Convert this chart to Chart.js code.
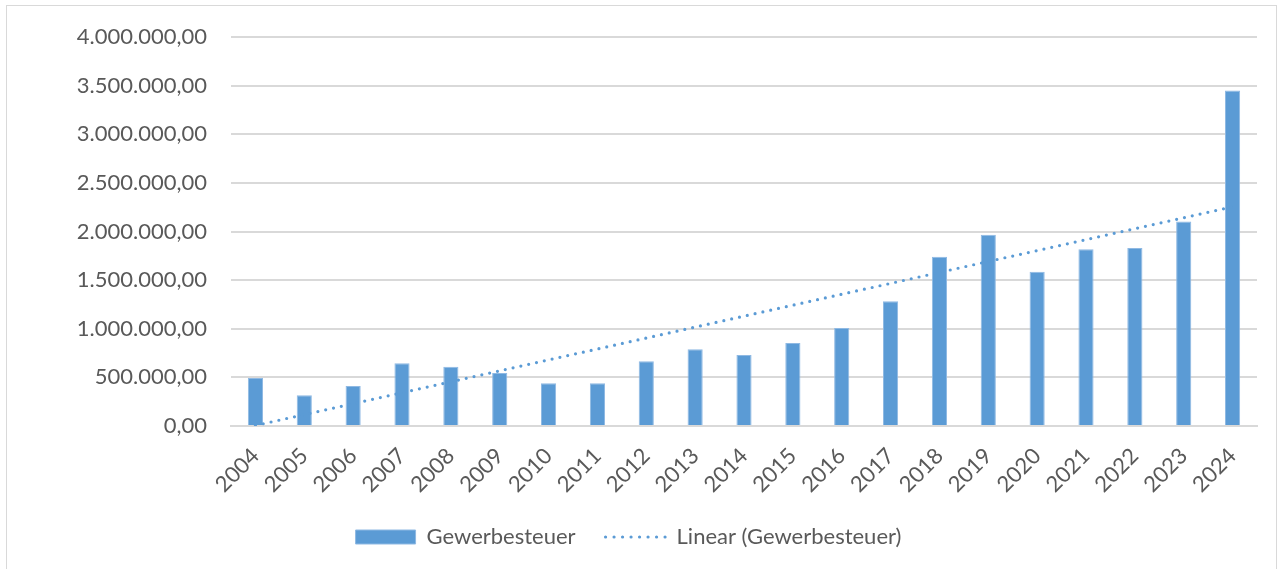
<!DOCTYPE html>
<html>
<head>
<meta charset="utf-8">
<script src="https://cdn.jsdelivr.net/npm/chart.js@4"></script>
<style>
  html, body { margin: 0; padding: 0; background: #fff; overflow: hidden; }
  #frame { position: absolute; left: 6px; top: 5px; width: 1269px; height: 600px; border: 1px solid #d9d9d9; }
  #graph { position: absolute; left: 0; top: 0; }
</style>
</head>
<body>
<div id="frame"></div>
<canvas id="graph" width="1282" height="569"></canvas>
<script>
// Daten
const years = ["2004","2005","2006","2007","2008","2009","2010","2011","2012","2013","2014",
  "2015","2016","2017","2018","2019","2020","2021","2022","2023","2024"]
const gewerbesteuer = [495000, 316000, 411000, 645000, 610000, 545000, 439000, 440000, 667000,
  789000, 731000, 854000, 1007000, 1283000, 1740000, 1968000, 1587000, 1818000, 1832000,
  2104000, 3451000]
// Trendlinie: Anfangs- und Endwert
const trendStart = 5000
const trendEnd = 2255000
const trend = years.map((y, i) => i === 0 ? trendStart : (i === years.length - 1 ? trendEnd : null))

const blue = '#5b9bd5'
const grey = '#595959'
const font = { family: 'Lato', size: 22 }

function deNum(v) {
  const s = Math.round(v).toString().replace(/\B(?=(\d{3})+(?!\d))/g, '.')
  return s + ',00'
}

new Chart('graph', {
  data: {
    labels: years,
    datasets: [{
      type: 'bar',
      label: 'Gewerbesteuer',
      data: gewerbesteuer,
      backgroundColor: blue,
      borderColor: '#8fb9e3',
      borderWidth: 1,
      barPercentage: 0.31,
      categoryPercentage: 1,
      pointStyle: 'rect',
      order: 1
    }, {
      type: 'line',
      label: 'Linear (Gewerbesteuer)',
      data: trend,
      spanGaps: true,
      borderColor: blue,
      borderWidth: 3.2,
      borderDash: [0, 8],
      borderCapStyle: 'round',
      pointRadius: 0,
      pointStyle: 'line',
      fill: false,
      order: 0
    }]
  },
  options: {
    responsive: false,
    animation: false,
    devicePixelRatio: 1,
    layout: { padding: { top: 36, right: 25, bottom: 11, left: 0 } },
    plugins: {
      tooltip: { enabled: false },
      legend: {
        position: 'bottom',
        labels: {
          usePointStyle: true,
          pointStyleWidth: 60,
          boxHeight: 14,
          padding: 30,
          color: grey,
          font: font,
          sort: (a, b) => a.datasetIndex - b.datasetIndex,
          generateLabels: chart => {
            const items = Chart.defaults.plugins.legend.labels.generateLabels(chart)
            items.forEach(it => {
              if (it.datasetIndex === 1) {
                it.lineDash = [0, 8.5]
                it.lineCap = 'round'
                it.lineWidth = 3.2
                it.strokeStyle = blue
              }
            })
            return items
          }
        }
      }
    },
    scales: {
      x: {
        grid: { display: false, drawTicks: false },
        border: { color: '#d9d9d9', width: 2 },
        ticks: { color: grey, font: font, minRotation: 45, maxRotation: 45, padding: 17 },
        afterFit: s => { s.height = 70 }
      },
      y: {
        min: 0,
        max: 4000000,
        grid: { color: '#d9d9d9', lineWidth: 2, drawTicks: false },
        border: { display: false },
        ticks: { stepSize: 500000, color: grey, font: font, padding: 24, callback: v => deNum(v) },
        afterFit: s => { s.width = 231 }
      }
    }
  }
})
</script>
</body>
</html>
